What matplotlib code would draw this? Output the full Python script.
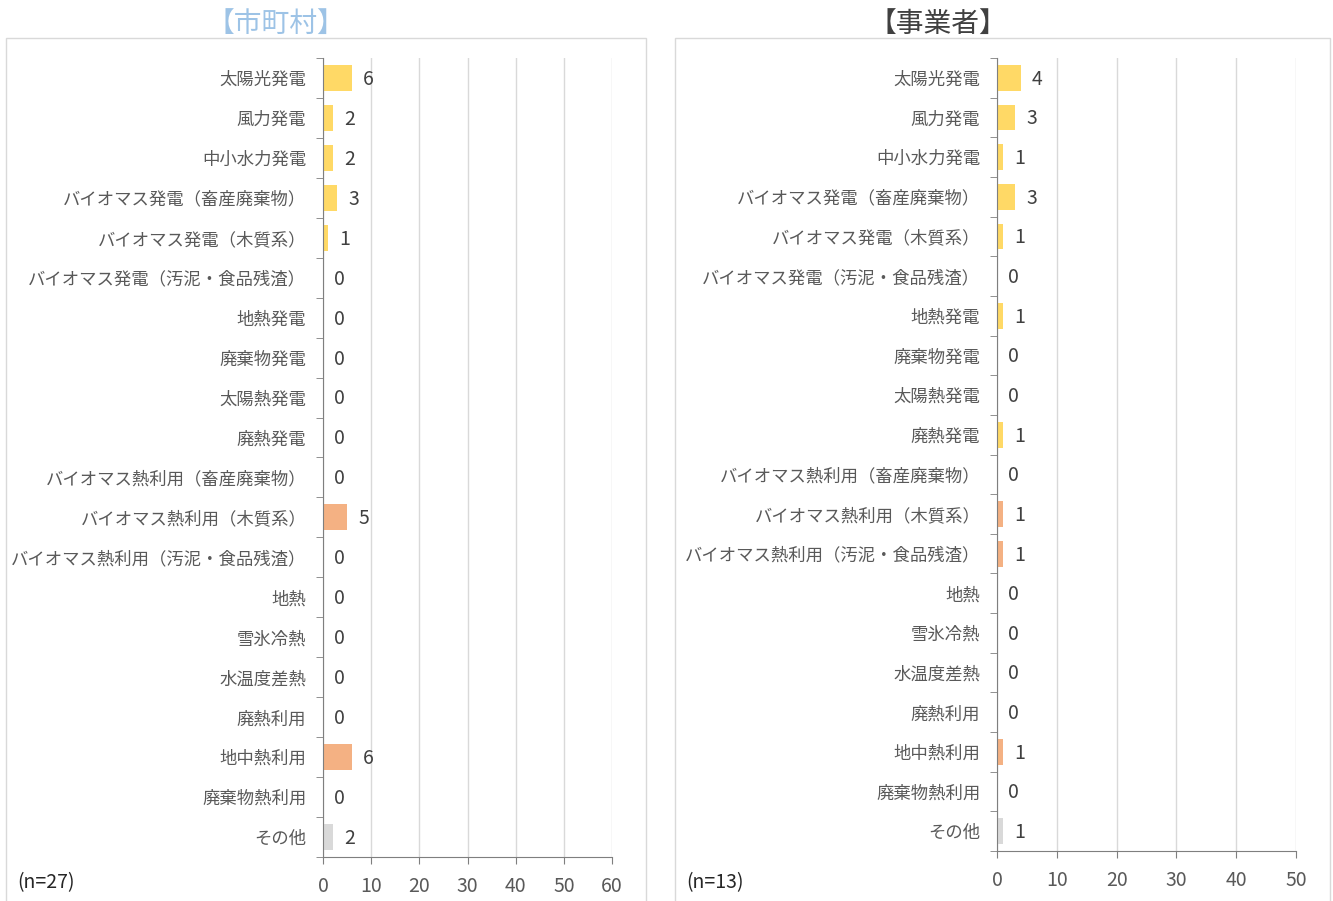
import matplotlib
matplotlib.use('Agg')
import matplotlib.pyplot as plt
from matplotlib.patches import Rectangle
import numpy as np

plt.rcParams['font.family'] = ['Noto Sans CJK JP', 'DejaVu Sans']

# ------------------------------------------------------------------------------
# Data
# ------------------------------------------------------------------------------
categories = ['太陽光発電', '風力発電', '中小水力発電', 'バイオマス発電（畜産廃棄物）',
              'バイオマス発電（木質系）', 'バイオマス発電（汚泥・食品残渣）', '地熱発電',
              '廃棄物発電', '太陽熱発電', '廃熱発電', 'バイオマス熱利用（畜産廃棄物）',
              'バイオマス熱利用（木質系）', 'バイオマス熱利用（汚泥・食品残渣）', '地熱',
              '雪氷冷熱', '水温度差熱', '廃熱利用', '地中熱利用', '廃棄物熱利用', 'その他']
kinds = ['power'] * 10 + ['heat'] * 9 + ['other']

muni_vals = [6, 2, 2, 3, 1, 0, 0, 0, 0, 0, 0, 5, 0, 0, 0, 0, 0, 6, 0, 2]
biz_vals = [4, 3, 1, 3, 1, 0, 1, 0, 0, 1, 0, 1, 1, 0, 0, 0, 0, 1, 0, 1]

muni_title = '【市町村】'
biz_title = '【事業者】'
muni_n = '(n=27)'
biz_n = '(n=13)'

colors = {'power': '#FFD966', 'heat': '#F4B183', 'other': '#D9D9D9'}
txt_col = '#595959'
W, H = 1333, 901

fig = plt.figure(figsize=(W / 100, H / 100), dpi=100)


def fx(px):
    return px / W


def fy(py):
    return 1 - py / H


def panel(box, title_x, ax_px, vals, xmax, title, title_col, n_text):
    # panel border
    x0, y0, x1 = box
    fig.patches.append(Rectangle((fx(x0), -0.05), fx(x1) - fx(x0), fy(y0) + 0.05,
                                 transform=fig.transFigure, fill=False,
                                 edgecolor='#D9D9D9', linewidth=1))
    fig.text(fx(title_x), fy(24), title, color=title_col, fontsize=20,
             ha='center', va='center')
    fig.text(fx(x0 + 11), fy(883), n_text, color='#262626', fontsize=14,
             ha='left', va='center')

    l, t, r, b = ax_px
    ax = fig.add_axes([fx(l), fy(b), fx(r) - fx(l), fy(t) - fy(b)])
    y = np.arange(len(categories))
    ax.barh(y, vals, height=0.65, color=[colors[k] for k in kinds], zorder=2)
    for yi, v in zip(y, vals):
        ax.annotate(str(v), (v, yi), xytext=(8, -1), textcoords='offset points',
                    ha='left', va='center', fontsize=14, color='#404040')
    ax.set_ylim(len(categories) - 0.5, -0.5)
    ax.set_xlim(0, xmax)
    ax.set_xticks(np.arange(0, xmax + 1, 10))
    ax.set_yticks(y)
    ax.set_yticklabels(categories)
    ax.set_yticks(np.arange(-0.5, len(categories)), minor=True)
    ax.tick_params(axis='y', which='major', length=0, pad=12, labelsize=12.5,
                   labelcolor=txt_col)
    ax.tick_params(axis='y', which='minor', length=5, color='#7F7F7F')
    ax.tick_params(axis='x', length=5, color='#7F7F7F', pad=9, labelsize=14,
                   labelcolor=txt_col)
    ax.grid(axis='x', color='#D9D9D9', linewidth=1, zorder=0)
    for s in ['top', 'right']:
        ax.spines[s].set_visible(False)
    for s in ['left', 'bottom']:
        ax.spines[s].set_color('#7F7F7F')
    return ax


panel((6, 38, 646), 276, (323, 58, 612, 857), muni_vals, 60, muni_title, '#9DC3E6', muni_n)
panel((675, 38, 1330), 938, (997, 58, 1296, 851), biz_vals, 50, biz_title, '#404040', biz_n)

plt.savefig('out.png', dpi=100)
